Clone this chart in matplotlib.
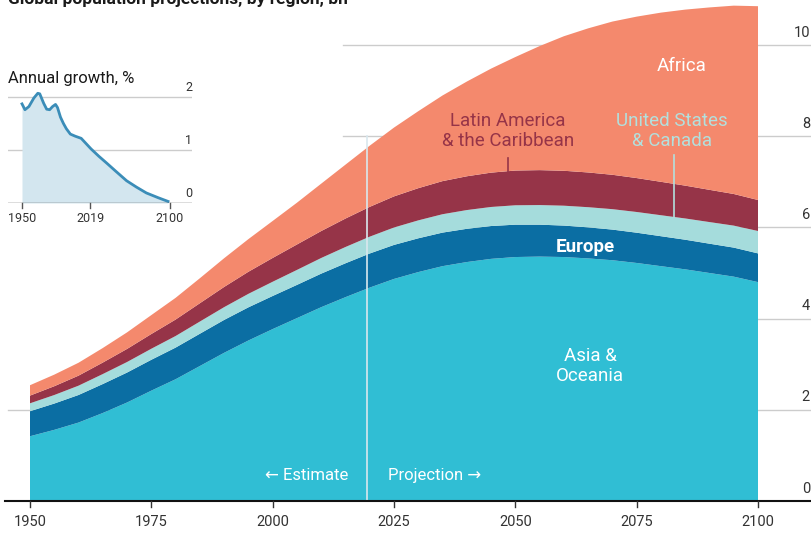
import matplotlib
matplotlib.use('Agg')
import matplotlib.pyplot as plt

plt.rcParams['font.family'] = ['Roboto', 'DejaVu Sans']

# Population by region, bn (5-year steps)
years = list(range(1950, 2101, 5))
asia_oceania = [1.42, 1.56, 1.72, 1.93, 2.16, 2.42, 2.67, 2.96, 3.25, 3.52, 3.77, 4.01,
                4.25, 4.47, 4.68, 4.87, 5.02, 5.15, 5.24, 5.31, 5.35, 5.36, 5.35, 5.32,
                5.28, 5.22, 5.15, 5.08, 5.00, 4.92, 4.80]
europe = [0.549, 0.577, 0.605, 0.635, 0.657, 0.677, 0.694, 0.708, 0.721, 0.727, 0.726,
          0.729, 0.736, 0.743, 0.748, 0.746, 0.741, 0.736, 0.729, 0.720, 0.710, 0.700,
          0.690, 0.681, 0.672, 0.664, 0.657, 0.650, 0.643, 0.637, 0.630]
us_canada = [0.173, 0.187, 0.204, 0.219, 0.231, 0.242, 0.254, 0.267, 0.280, 0.296, 0.312,
             0.328, 0.343, 0.357, 0.369, 0.382, 0.393, 0.403, 0.411, 0.418, 0.425, 0.430,
             0.436, 0.442, 0.448, 0.454, 0.460, 0.466, 0.474, 0.482, 0.491]
latin_america = [0.169, 0.193, 0.220, 0.252, 0.287, 0.323, 0.361, 0.402, 0.443, 0.484,
                 0.522, 0.558, 0.591, 0.624, 0.654, 0.682, 0.706, 0.726, 0.741, 0.753,
                 0.762, 0.766, 0.766, 0.762, 0.754, 0.744, 0.733, 0.720, 0.707, 0.694, 0.680]
africa = [0.228, 0.254, 0.283, 0.319, 0.363, 0.415, 0.476, 0.548, 0.630, 0.716, 0.811,
          0.916, 1.039, 1.182, 1.341, 1.509, 1.688, 1.878, 2.077, 2.281, 2.489, 2.720,
          2.950, 3.160, 3.360, 3.540, 3.710, 3.860, 4.000, 4.130, 4.250]

# Annual growth, %
growth_years = [1950, 1953, 1957, 1962, 1966, 1968, 1972, 1975, 1978, 1981, 1984, 1986,
                1989, 1992, 1995, 1999, 2004, 2010, 2015, 2020, 2028, 2036, 2045, 2056,
                2066, 2076, 2088, 2098]
growth = [1.87, 1.76, 1.82, 1.98, 2.07, 2.06, 1.88, 1.77, 1.76, 1.82, 1.86, 1.80, 1.62,
          1.50, 1.40, 1.30, 1.26, 1.22, 1.12, 1.02, 0.88, 0.75, 0.60, 0.42, 0.30, 0.19,
          0.10, 0.03]

colors = ['#30bed4', '#0b6ea3', '#a5dcdc', '#963448', '#f4896d']
W, H = 812, 539

fig = plt.figure(figsize=(W / 100, H / 100), dpi=100)
ax = fig.add_axes([0, 1 - 501 / H, 1, 501 / H])
ax.set_xlim(1950 - 30 / 4.853, 2100 + 54 / 4.853)
ax.set_ylim(0, 501 / 45.6)
ax.axis('off')

# gridlines
for v in [4, 6, 8, 10]:
    ax.axhline(v, xmin=343 / W, xmax=1, color='#cccccc', lw=1, zorder=0)
ax.axhline(2, xmin=8 / W, xmax=1, color='#cccccc', lw=1, zorder=0)
for v in [0, 2, 4, 6, 8, 10]:
    ax.text(2100 + 52 / 4.853, v + 0.12, str(v), ha='right', va='bottom',
            fontsize=10.5, color='#333333')

ax.stackplot(years, asia_oceania, europe, us_canada, latin_america, africa,
             colors=colors, lw=0, zorder=2)

# baseline and ticks
ax.axhline(0, xmin=5 / W, xmax=1, color='#111111', lw=1.5, zorder=5, clip_on=False)
for yr in range(1950, 2101, 25):
    ax.plot([yr, yr], [0, -0.14], color='#333333', lw=1, clip_on=False, zorder=5)
    ax.text(yr, -0.3, str(yr), ha='center', va='top', fontsize=10.5, color='#333333')

# estimate / projection divider
ax.plot([2019.5, 2019.5], [0, 8], color='#d9e8ee', lw=1.2, zorder=3)
ax.text(2015.5, 0.55, '\u2190 Estimate', ha='right', va='center', fontsize=12,
        color='white', zorder=4)
ax.text(2023.8, 0.55, 'Projection \u2192', ha='left', va='center', fontsize=12,
        color='white', zorder=4)

# region labels
ax.text(2084.3, 9.54, 'Africa', ha='center', va='center', fontsize=13.5, color='white', zorder=4)
ax.text(2048.5, 8.11, 'Latin America\n& the Caribbean', ha='center', va='center',
        fontsize=13.5, color='#963448', linespacing=1.15, zorder=4)
ax.plot([2048.5, 2048.5], [7.21, 7.52], color='#963448', lw=1.2, zorder=4)
ax.text(2082.2, 8.11, 'United States\n& Canada', ha='center', va='center',
        fontsize=13.5, color='#b2e0dd', linespacing=1.15, zorder=4)
ax.plot([2082.7, 2082.7], [6.23, 7.59], color='#b2e0dd', lw=1.2, zorder=4)
ax.text(2064.5, 5.58, 'Europe', ha='center', va='center', fontsize=13.5, color='white',
        fontweight='bold', zorder=4)
ax.text(2065.4, 2.96, 'Asia &\nOceania', ha='center', va='center', fontsize=13.5,
        color='white', linespacing=1.15, zorder=4)

# title, cut at the top edge as in the source
fig.text(8 / W, 1 - 4 / H, 'Global population projections, by region, bn', ha='left',
         va='baseline', fontsize=12.5, fontweight='bold', color='#1a1a1a')

# inset: annual growth
ins = fig.add_axes([8 / W, 1 - 203 / H, 184 / W, 114 / H])
ins.set_xlim(1950 - 14 / 0.987, 2100 + 22 / 0.987)
ins.set_ylim(0, 114 / 53)
ins.axis('off')
for v in [1, 2]:
    ins.axhline(v, color='#cccccc', lw=1, zorder=0)
ins.fill_between(growth_years, growth, 0, color='#d3e6ef', lw=0, zorder=1)
ins.plot(growth_years, growth, color='#3b8db8', lw=2, zorder=2)
ins.axhline(0, color='#555555', lw=1, zorder=3)
for v in [0, 1, 2]:
    ins.text(2100 + 22 / 0.987, v + 0.06, str(v), ha='right', va='bottom', fontsize=9,
             color='#333333')
for yr in [1950, 2019, 2100]:
    ins.plot([yr, yr], [0, -0.1], color='#555555', lw=1, clip_on=False)
    ins.text(yr, -0.17, str(yr), ha='center', va='top', fontsize=9, color='#333333')
fig.text(8 / W, 1 - 78 / H, 'Annual growth, %', ha='left', va='center', fontsize=12,
         color='#1a1a1a')

fig.savefig('out.png', dpi=100)
